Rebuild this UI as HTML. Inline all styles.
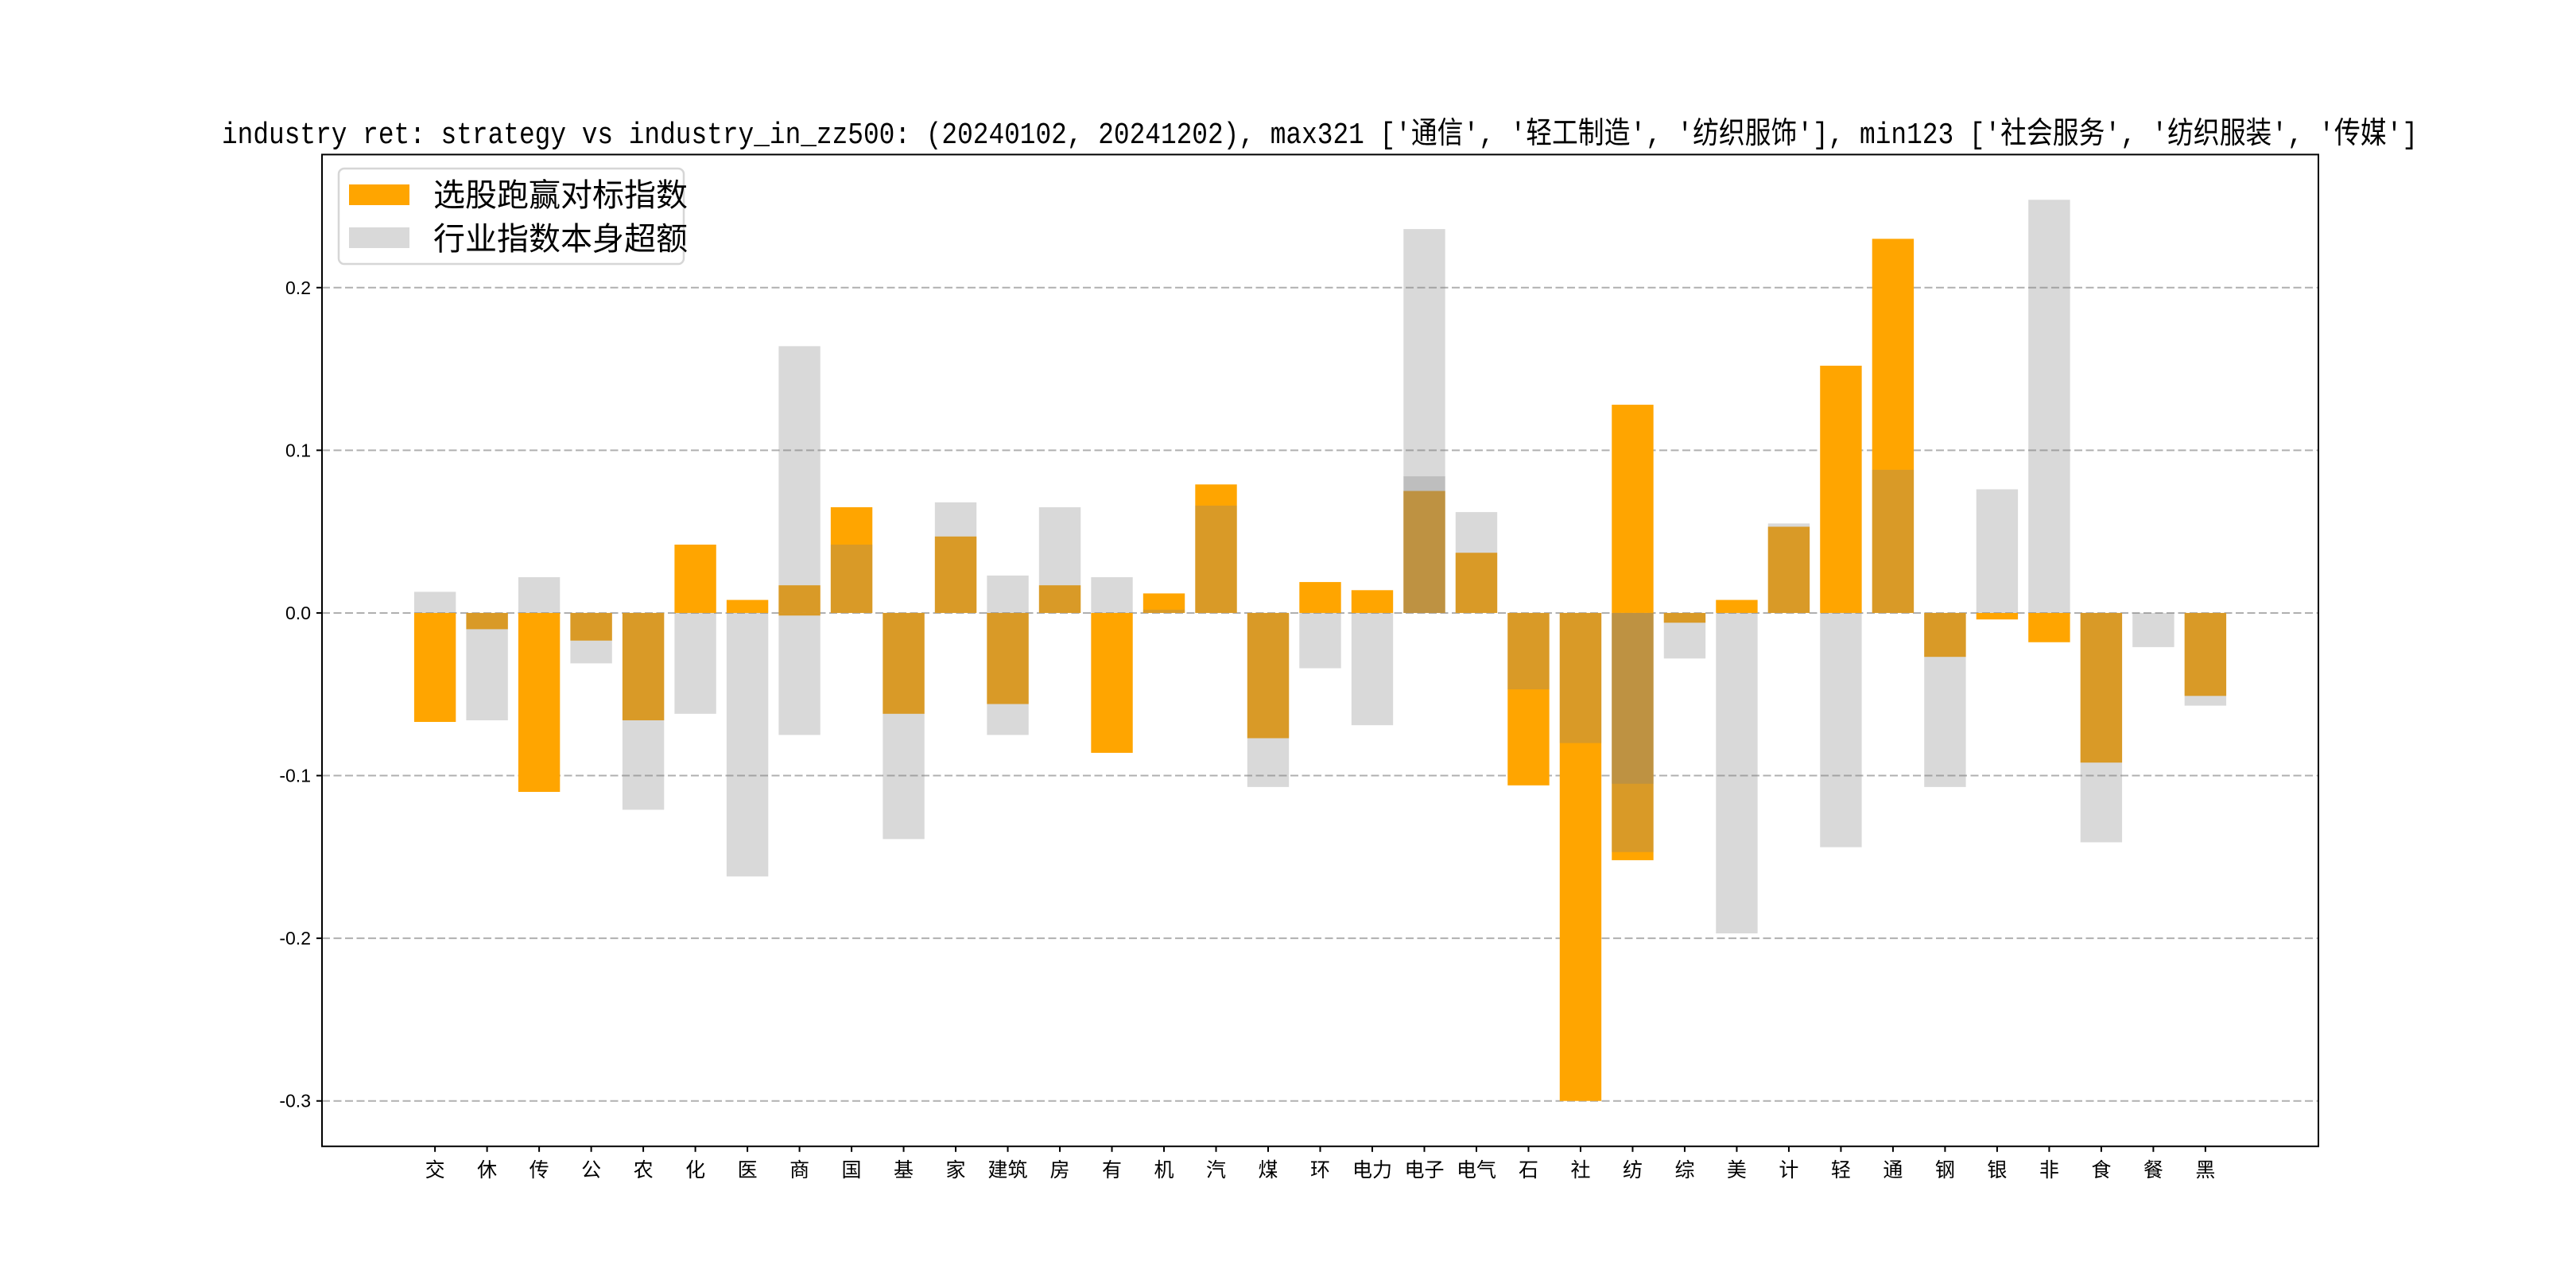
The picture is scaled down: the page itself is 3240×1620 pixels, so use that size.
<!DOCTYPE html>
<html><head><meta charset="utf-8"><style>
html,body{margin:0;padding:0;background:#fff;}
svg{display:block;}
</style></head><body>
<svg id="chart" width="3240" height="1620" viewBox="0 0 3240 1620" xmlns="http://www.w3.org/2000/svg">
<rect x="0" y="0" width="3240" height="1620" fill="#fff"/>
<text x="1660" y="180" text-anchor="middle" font-family="'Liberation Mono','WenQuanYi Zen Hei',monospace" font-size="38" textLength="2762" lengthAdjust="spacingAndGlyphs">industry ret: strategy vs industry_in_zz500: (20240102, 20241202), max321 ['通信', '轻工制造', '纺织服饰'], min123 ['社会服务', '纺织服装', '传媒']</text>
<g id="grid"></g>
<g id="bars"></g>
<g id="axes"></g>
<g>
<rect x="426" y="212" width="434" height="120" rx="7" fill="rgba(255,255,255,0.85)" stroke="#d6d6d6" stroke-width="2.5"/>
<rect x="439" y="232" width="76" height="26" fill="#FFA500"/>
<text x="545" y="259" font-family="'Liberation Sans','WenQuanYi Zen Hei',sans-serif" font-size="40">选股跑赢对标指数</text>
<rect x="439" y="286" width="76" height="26" fill="rgba(128,128,128,0.3)"/>
<text x="545" y="314" font-family="'Liberation Sans','WenQuanYi Zen Hei',sans-serif" font-size="40">行业指数本身超额</text>
</g>
</svg>
<script>
const categories = ['交','休','传','公','农','化','医','商','国','基','家','建筑','房','有','机','汽','煤','环','电力','电子','电气','石','社','纺','综','美','计','轻','通','钢','银','非','食','餐','黑'];
const strategyExcess = [-0.067,-0.010,-0.110,-0.017,-0.066,0.042,0.008,0.017,0.065,-0.062,0.047,-0.056,0.017,-0.086,0.012,0.079,-0.077,0.019,0.014,0.075,0.037,-0.106,-0.300,0.128,-0.006,0.008,0.053,0.152,0.230,-0.027,-0.004,-0.018,-0.092,0.000,-0.051];
const industryExcess = [0.013,-0.066,0.022,-0.031,-0.121,-0.062,-0.162,0.164,0.042,-0.139,0.068,-0.075,0.065,0.022,0.002,0.066,-0.107,-0.034,-0.069,0.236,0.062,-0.047,-0.080,-0.105,-0.028,-0.197,0.055,-0.144,0.088,-0.107,0.076,0.254,-0.141,-0.021,-0.057];
const extraCategories = ['商','建筑','电子','纺'];
const extraStrategy = [-0.0016,0.000,0.000,-0.152];
const extraIndustry = [-0.075,0.023,0.084,-0.147];
const yTicks = [-0.3,-0.2,-0.1,0.0,0.1,0.2];
const yTickLabels = ['-0.3','-0.2','-0.1','0.0','0.1','0.2'];

const NS='http://www.w3.org/2000/svg';
const L=405,R=2916,T=194.4,B=1441.8;
const yMin=-0.3279,yMax=0.2818;
const xMin=-2.17,xMax=categories.length-1+2.17;
function xs(i){return L+(i-xMin)/(xMax-xMin)*(R-L);}
function ys(v){return B-(v-yMin)/(yMax-yMin)*(B-T);}
const bw=0.8*(R-L)/(xMax-xMin);
function mk(tag,attrs,parent){const e=document.createElementNS(NS,tag);for(const k in attrs)e.setAttribute(k,attrs[k]);parent.appendChild(e);return e;}
const grid=document.getElementById('grid'),bars=document.getElementById('bars'),axes=document.getElementById('axes');

yTicks.forEach((v,k)=>{
  const g=mk('line',{x1:L,x2:R,y1:ys(v),y2:ys(v),stroke:'#b0b0b0','stroke-width':2,'stroke-dasharray':'10,4.5'},grid);
  
  
  const t=mk('line',{x1:L-7,x2:L,y1:ys(v),y2:ys(v),stroke:'#000','stroke-width':2},axes);
  
  
  const lb=mk('text',{x:L-14,y:ys(v)+8,'text-anchor':'end','font-family':"'Liberation Sans',sans-serif",'font-size':23},axes);
  lb.textContent=yTickLabels[k];
  
  
});

function bar(i,v,fill,name){
  const y0=ys(0),y1=ys(v);
  const r=mk('rect',{x:xs(i)-bw/2,y:Math.min(y0,y1),width:bw,height:Math.abs(y1-y0),fill:fill},bars);
  
  
}
const OR='#FFA500',GR='rgba(128,128,128,0.3)';
strategyExcess.forEach((v,i)=>bar(i,v,OR,'strategy-bar'));
extraCategories.forEach((c,k)=>bar(categories.indexOf(c),extraStrategy[k],OR,'strategy-bar-extra'));
industryExcess.forEach((v,i)=>bar(i,v,GR,'industry-bar'));
extraCategories.forEach((c,k)=>bar(categories.indexOf(c),extraIndustry[k],GR,'industry-bar-extra'));

categories.forEach((c,i)=>{
  const t=mk('line',{x1:xs(i),x2:xs(i),y1:B,y2:B+7,stroke:'#000','stroke-width':2},axes);
  
  
  const lb=mk('text',{x:xs(i),y:B+38,'text-anchor':'middle','font-family':"'Liberation Sans','WenQuanYi Zen Hei',sans-serif",'font-size':25},axes);
  lb.textContent=c;
  
  
});
const frame=mk('rect',{x:L,y:T,width:R-L,height:B-T,fill:'none',stroke:'#000','stroke-width':2},axes);


</script>
</body></html>
